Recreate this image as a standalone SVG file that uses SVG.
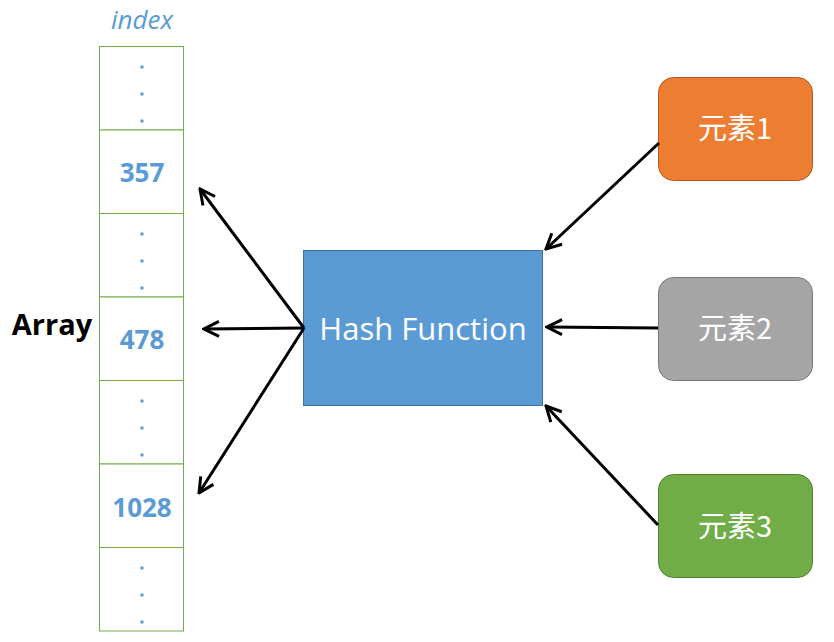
<svg xmlns="http://www.w3.org/2000/svg" width="834" height="642" viewBox="0 0 834 642">
<style>
.cell{fill:#fff;stroke:#70AD47;stroke-width:1}
.num{font-family:"Open Sans","Liberation Sans",sans-serif;font-weight:bold;font-size:26px;fill:#5B9BD5;text-anchor:middle}
.dot{fill:#5B9BD5}
.eltxt{font-family:"Noto Sans CJK SC","Noto Sans",sans-serif;font-size:29px;fill:#fff;text-anchor:middle}
.conn line{stroke:#000;stroke-width:3;fill:none;marker-end:url(#arr)}
</style>
<defs>
<marker id="arr" viewBox="0 0 12 12" refX="11" refY="6" markerWidth="6" markerHeight="6" orient="auto" markerUnits="strokeWidth">
<path d="M1,1 L11,6 L1,11" fill="none" stroke="#000" stroke-width="2"/>
</marker>
<g id="dots3"><circle cx="0" cy="0" r="1.7"/><circle cx="0" cy="27" r="1.7"/><circle cx="0" cy="54" r="1.7"/></g>
</defs>
<rect width="834" height="642" fill="#fff"/>
<text x="142" y="29" font-family="'Open Sans','Liberation Sans',sans-serif" font-style="italic" font-size="26" fill="#5B9BD5" text-anchor="middle">index</text>
<text x="52" y="335" font-family="'Open Sans','Liberation Sans',sans-serif" font-weight="bold" font-size="29" fill="#000" text-anchor="middle">Array</text>
<g id="array">
<rect class="cell" x="99.5" y="46.5" width="84" height="83.5"/>
<rect class="cell" x="99.5" y="130" width="84" height="83.5"/>
<rect class="cell" x="99.5" y="213.5" width="84" height="83.5"/>
<rect class="cell" x="99.5" y="297" width="84" height="83.5"/>
<rect class="cell" x="99.5" y="380.5" width="84" height="83.5"/>
<rect class="cell" x="99.5" y="464" width="84" height="83.5"/>
<rect class="cell" x="99.5" y="547.5" width="84" height="83.5"/>
<use href="#dots3" class="dot" x="142" y="67"/>
<use href="#dots3" class="dot" x="142" y="234"/>
<use href="#dots3" class="dot" x="142" y="401"/>
<use href="#dots3" class="dot" x="142" y="568"/>
<text class="num" x="142" y="182">357</text>
<text class="num" x="142" y="349">478</text>
<text class="num" x="142" y="517">1028</text>
</g>
<g id="hash">
<rect x="303.5" y="250.5" width="239" height="155" fill="#5B9BD5" stroke="#41719C" stroke-width="1"/>
<text x="423" y="340" font-family="'Open Sans','Liberation Sans',sans-serif" font-size="31" fill="#fff" text-anchor="middle">Hash Function</text>
</g>
<g id="e1">
<rect x="658.5" y="77.5" width="154" height="103" rx="15" fill="#ED7D31" stroke="#AE5A21"/>
<text class="eltxt" x="735" y="139">元素1</text>
</g>
<g id="e2">
<rect x="658.5" y="277.5" width="154" height="103" rx="15" fill="#A5A5A5" stroke="#787878"/>
<text class="eltxt" x="735" y="339">元素2</text>
</g>
<g id="e3">
<rect x="658.5" y="474.5" width="154" height="103" rx="15" fill="#70AD47" stroke="#507E32"/>
<text class="eltxt" x="735" y="537">元素3</text>
</g>
<g class="conn" id="connectors">
<line x1="304" y1="328" x2="200" y2="189"/>
<line x1="304" y1="328" x2="204" y2="329"/>
<line x1="304" y1="328" x2="199" y2="493"/>
<line x1="659" y1="143" x2="546" y2="249"/>
<line x1="658" y1="328" x2="547" y2="327"/>
<line x1="658" y1="525" x2="546" y2="406"/>
</g>
</svg>
